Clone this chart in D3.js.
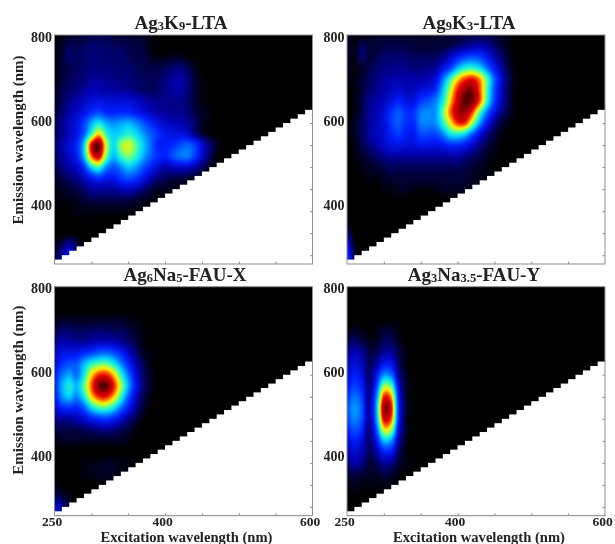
<!DOCTYPE html>
<html>
<head>
<meta charset="utf-8">
<script src="https://cdn.jsdelivr.net/npm/d3@7"></script>
<style>
html,body{margin:0;padding:0;background:#fff;}
svg{display:block;filter:blur(0.45px);}
text{font-family:"Liberation Serif",serif;font-weight:bold;fill:#222;}
</style>
</head>
<body>
<script>
// Sampling of the intensity tables
const excitationSamples = [250,260,270,280,290,300,310,320,330,340,350,360,370,380,390,400,410,420,430,440,450,460,470];
const emissionSamples = [800,775,750,725,700,675,650,625,600,575,550,525,500,475,450,425,400,375,350,325,300];

// Intensity (percent of peak): one row per emission sample, missing cells are 0
const ag3k9 = [
[0,1,2,3,3,4,4,4,3,3,3,2,2,1],
[1,2,5,4,5,6,6,6,5,5,4,4,3,1],
[1,3,6,5,6,7,7,6,6,6,5,4,4,2,1,1,2,2,1],
[1,3,4,5,6,7,7,7,7,6,6,5,4,4,4,5,6,7,5,2],
[1,3,5,6,7,9,9,8,8,7,7,6,5,5,5,7,9,10,7,3,1],
[2,4,6,7,9,11,11,10,10,9,8,7,6,5,6,8,9,10,7,3,1],
[2,5,8,10,12,15,16,15,15,15,15,13,11,9,8,8,8,8,6,3,1],
[3,6,10,13,16,22,25,21,20,21,21,18,15,12,10,9,8,8,7,4,2,1],
[4,8,12,16,24,36,44,36,33,35,37,33,27,21,16,13,12,11,9,6,2,1],
[5,8,12,17,28,48,68,48,40,42,47,42,35,28,22,18,16,16,14,8,3,1],
[6,10,15,21,40,84,100,62,42,56,62,52,40,30,20,19,21,25,28,24,14,7,2],
[5,9,13,19,38,75,88,55,38,48,55,48,37,28,22,20,25,30,31,24,13,6,1],
[4,7,10,13,22,42,50,33,27,32,39,35,27,20,14,10,12,13,13,10,6,2],
[2,4,6,8,12,18,22,18,18,22,26,23,17,11,7,5,4,4,3,2,1],
[1,2,3,4,6,9,10,9,9,11,12,10,7,4,2,2,1,1,1,1],
[0,1,1,2,3,4,4,4,4,4,4,3,2,1,1],
[0,0,0,1,1,1,1,1,1,1,1,1],
[],
[],
[1,4,9,4],
[2,10,16,6]
];
const ag9k3 = [
[3,0,1,1,2,2,2,2,2,2,2,2,2,3,3,3,4,4,4,4,3,2,1],
[3,1,5,3,3,4,4,4,4,3,3,3,3,3,4,6,8,10,11,9,6,3,1],
[3,1,6,3,4,6,6,6,6,5,5,5,5,8,13,19,24,26,24,18,11,6,2],
[2,1,2,4,6,7,8,8,8,7,7,8,9,16,24,37,46,48,42,30,18,9,3],
[1,1,3,5,7,9,10,10,10,10,10,11,15,30,48,66,79,83,72,50,28,13,5],
[0,1,3,6,8,10,12,14,12,12,15,17,22,38,60,82,95,96,78,50,26,12,4],
[0,1,4,8,10,12,16,20,16,16,23,26,32,44,68,88,100,97,78,47,24,11,4],
[0,1,4,8,11,15,22,27,22,22,31,33,34,52,75,92,94,80,52,30,16,7,3],
[0,2,5,9,12,15,23,27,22,21,31,32,33,46,64,80,80,58,35,18,8,3,1],
[0,2,5,9,12,14,20,23,19,18,25,25,25,32,43,46,41,28,16,8,4,1],
[0,1,4,7,10,13,16,17,15,15,17,17,16,18,21,21,18,13,8,4,2],
[0,1,2,4,6,8,9,9,9,9,9,9,9,9,10,10,8,6,4,2,1],
[0,0,1,2,3,4,5,5,5,5,5,5,5,5,5,5,4,3,2,1],
[0,0,0,1,1,2,3,3,3,3,3,3,3,3,3,3,3,2,1,1],
[0,0,0,0,0,1,1,2,2,1,1,1,1,2,2,2,2,1,1],
[],
[],
[1],
[6],
[15,2],
[22,4]
];
const ag6na5 = [
[],
[],
[],
[1,2,2,2,2,2,2,2,2,2,1,1],
[4,6,6,5,5,6,6,6,5,5,4,2,1],
[8,10,10,9,9,10,12,12,11,9,6,4,1],
[13,16,17,17,21,24,28,29,26,20,13,7,2,1],
[15,22,26,27,37,47,52,53,45,33,21,11,5,1],
[19,30,36,30,44,66,80,82,69,48,30,15,6,2],
[21,36,45,37,52,76,97,100,83,59,36,18,7,2],
[18,33,39,32,44,66,80,82,69,48,28,13,5,1],
[14,20,22,20,27,41,50,51,43,30,18,9,3],
[8,9,9,11,14,19,22,23,20,14,8,4,1],
[3,4,4,4,5,6,7,8,7,5,3,1],
[1,2,2,2,2,2,2,2,2,2,1],
[],
[0,0,0,0,1,1,1,2,2,1,1],
[0,0,0,0,1,1,2,2,2,1,1],
[2],
[6,3,1],
[14,9,2]
];
const ag3na35 = [
[],
[],
[],
[],
[1,2,1,0,1,3,3,1],
[4,6,4,2,2,5,5,2],
[8,11,9,4,5,9,9,4,1],
[11,15,12,5,9,18,17,6,1],
[14,19,15,6,16,33,30,9,2],
[18,24,19,7,24,56,51,14,3],
[23,30,24,8,32,80,72,20,3],
[27,34,27,9,37,93,84,22,4],
[25,32,26,9,34,85,77,21,3],
[20,26,21,7,26,63,57,16,3],
[14,19,15,6,17,38,34,10,2],
[10,14,11,5,10,19,18,6,1],
[7,10,8,3,5,9,8,3,1],
[3,4,3,2,2,4,3,1],
[1,2,1,1,1,1,1],
[],
[]
];

// Scattering cut-off: below this emission nothing was recorded, for each excitation step
const cutoffExcitation = [250,260,270,280,290,300,310,320,330,340,350,360,370,380,390,400,410,420,430,440,450,460,470,480,490,500,510,520,530,540,550,560,570,580,590];
const cutoffEmission = [290,300,310,320,330,340,350,360,370,380,390,400,410,420,430,440,450,460,470,480,490,500,510,520,530,540,550,560,570,580,590,600,610,620,630];

const panelTitles = ["Ag3K9-LTA","Ag9K3-LTA","Ag6Na5-FAU-X","Ag3Na3.5-FAU-Y"];
const panelGrids = [ag3k9, ag9k3, ag6na5, ag3na35];
const xTickValues = [300,350,400,450,500,550];
const yTickValues = [300,350,400,450,500,550,600];
const xTickLabels = [250,400,600];
const yTickLabels = [800,600,400];
const xAxisName = "Excitation wavelength (nm)";
const yAxisName = "Emission wavelength (nm)";

// Colour scale
const colorStops = [0,0.05,0.1,0.2,0.3,0.4,0.5,0.58,0.66,0.74,0.84,0.93,1];
const colorValues = ["#000000","#00005a","#0000aa","#001eff","#006eff","#00d2ff","#3cffb4","#aaff46","#ffee00","#ff7800","#e60000","#aa0000","#5a0000"];

// Layout
const W = 615, H = 544;
const panelBoxes = [
  {l:54.5,r:312.5,t:35,b:264,title:181,titleY:29},
  {l:347,r:605,t:35,b:264,title:469,titleY:29},
  {l:54.5,r:312.5,t:286.7,b:515.7,title:185,titleY:281},
  {l:347,r:605,t:286.7,b:515.7,title:474,titleY:281}
];

const svg = d3.select("body").append("svg").attr("width",W).attr("height",H);
const color = d3.scaleLinear().domain(colorStops).range(colorValues).clamp(true);

function catmull(a,b,c,d,t){
  return 0.5*(2*b+(c-a)*t+(2*a-5*b+4*c-d)*t*t+(3*b-a-3*c+d)*t*t*t);
}
function sampler(grid){
  const nr = emissionSamples.length, nc = excitationSamples.length;
  const at = (i,j)=>{
    i=Math.max(0,Math.min(nr-1,i));
    if(j>=nc) return 0;
    j=Math.max(0,j);
    return grid[i][j]||0;
  };
  return (ex,em)=>{
    const fj=(ex-excitationSamples[0])/10, fi=(emissionSamples[0]-em)/25;
    const j=Math.floor(fj), i=Math.floor(fi), tj=fj-j, ti=fi-i;
    const rows=[-1,0,1,2].map(di=>catmull(at(i+di,j-1),at(i+di,j),at(i+di,j+1),at(i+di,j+2),tj));
    return catmull(rows[0],rows[1],rows[2],rows[3],ti)/100;
  };
}

panelBoxes.forEach((p,k)=>{
  const x = d3.scaleLinear().domain([250,600]).range([p.l,p.r]);
  const y = d3.scaleLinear().domain([280,800]).range([p.b,p.t]);
  const yLabel = d3.scaleLinear().domain([400,800]).range([p.t+170,p.t+2]);
  const g = svg.append("g");

  // heat map
  const w = Math.round(p.r-p.l), h = Math.round(p.b-p.t);
  const canvas = document.createElement("canvas");
  canvas.width=w; canvas.height=h;
  const ctx = canvas.getContext("2d");
  const img = ctx.createImageData(w,h);
  const f = sampler(panelGrids[k]);
  for(let py=0;py<h;py++){
    for(let px=0;px<w;px++){
      const v = f(x.invert(p.l+px+0.5), y.invert(p.t+py+0.5));
      const c = d3.rgb(color(Math.max(0,v)));
      const o=(py*w+px)*4;
      img.data[o]=c.r; img.data[o+1]=c.g; img.data[o+2]=c.b; img.data[o+3]=255;
    }
  }
  ctx.putImageData(img,0,0);
  g.append("image").attr("href",canvas.toDataURL()).attr("x",p.l).attr("y",p.t)
    .attr("width",p.r-p.l).attr("height",p.b-p.t).attr("preserveAspectRatio","none");

  // unrecorded region: each step overlaps the next, taller one, to avoid seams
  g.selectAll("rect.cut").data(cutoffExcitation).join("rect").attr("class","cut")
    .attr("x",d=>x(d)).attr("width",d=>x(d+10)-x(d)+1)
    .attr("y",(d,i)=>y(cutoffEmission[i])).attr("height",(d,i)=>p.b-y(cutoffEmission[i]))
    .attr("fill","#fff");

  // frame and ticks
  g.append("rect").attr("x",p.l).attr("y",p.t).attr("width",p.r-p.l).attr("height",p.b-p.t)
    .attr("fill","none").attr("stroke","#8f8f8f").attr("stroke-width",1);
  const ax = g.append("g").attr("transform",`translate(0,${p.b})`)
    .call(d3.axisBottom(x).tickValues(xTickValues).tickSizeInner(-2.5).tickSizeOuter(0).tickFormat(""));
  const ay = g.append("g").attr("transform",`translate(${p.r},0)`)
    .call(d3.axisRight(y).tickValues(yTickValues).tickSizeInner(-2.5).tickSizeOuter(0).tickFormat(""));
  [ax,ay].forEach(a=>{a.selectAll("line").attr("stroke","#8f8f8f");a.select("path").attr("stroke","none");});

  // y labels
  g.selectAll("text.yl").data(yTickLabels).join("text").attr("class","yl")
    .attr("x",p.l-2.5).attr("y",d=>yLabel(d)).attr("dy","0.34em").attr("text-anchor","end")
    .attr("font-size",14).text(d=>d);

  // x labels, name of axis
  if(k>=2){
    g.selectAll("text.xl").data(xTickLabels).join("text").attr("class","xl")
      .attr("x",d=>x(d)-2.5).attr("y",525.5).attr("text-anchor","middle")
      .attr("font-size",13.5).text(d=>d);
    g.append("text").attr("x",(p.l+p.r)/2+3).attr("y",541.5).attr("text-anchor","middle")
      .attr("font-size",14.6).text(xAxisName);
  }
  if(k%2==0){
    g.append("text").attr("transform",`translate(22.5,${(p.t+p.b)/2+(k==0?-9.5:-11)}) rotate(-90)`)
      .attr("text-anchor","middle").attr("font-size",15).text(yAxisName);
  }

  // title with subscripts
  const t = g.append("text").attr("x",p.title).attr("y",p.titleY).attr("text-anchor","middle").attr("font-size",19);
  panelTitles[k].split(/(\d[\d.]*)/).forEach((part,i)=>{
    if(!part) return;
    if(i%2) t.append("tspan").attr("font-size",12.5).attr("dy",1).text(part);
    else t.append("tspan").attr("dy",i?-1:0).text(part);
  });
});
</script>
</body>
</html>
